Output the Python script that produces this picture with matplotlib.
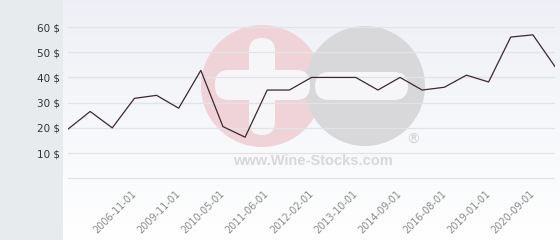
import matplotlib
matplotlib.use("Agg")
import matplotlib.pyplot as plt
import numpy as np
from matplotlib.patches import Circle, FancyBboxPatch, Rectangle

# ---------- Data ----------
prices = [19.5, 26.5, 20.0, 31.7, 32.9, 27.8, 42.8, 20.5, 16.3, 35.0, 35.0,
          40.0, 40.0, 40.0, 35.0, 40.0, 35.0, 36.1, 40.9, 38.2, 56.0, 56.9, 44.3]
tick_idx = [3, 5, 7, 9, 11, 13, 15, 17, 19, 21]
tick_labels = ["2006-11-01", "2009-11-01", "2010-05-01", "2011-06-01", "2012-02-01",
               "2013-10-01", "2014-09-01", "2016-08-01", "2019-01-01", "2020-09-01"]
y_ticks = [10, 20, 30, 40, 50, 60]

W, H = 560, 240
fig = plt.figure(figsize=(W / 100, H / 100), dpi=100)

# ---------- Background + watermark (pixel coords) ----------
bg = fig.add_axes([0, 0, 1, 1], zorder=0)
bg.set_xlim(0, W)
bg.set_ylim(H, 0)
bg.axis("off")
bg.add_patch(Rectangle((0, 0), 63, H, color="#e7ebee", lw=0))
grad = np.linspace(0, 1, 100).reshape(-1, 1)
top = np.array([0.933, 0.941, 0.965])
bot = np.array([1.0, 1.0, 1.0])
img = top + (bot - top) * grad[..., None]
bg.imshow(img, extent=(63, W, H, 0), aspect="auto", origin="upper")

bg.add_patch(Circle((262, 86), 61, color="#efd3d9", lw=0))
bg.add_patch(Circle((365, 86), 60, color="#d8d8da", lw=0))
bg.add_patch(FancyBboxPatch((249, 38), 26, 97, boxstyle="round,pad=0,rounding_size=13",
                            color="#f6f6f9", lw=0))
bg.add_patch(FancyBboxPatch((215, 70), 95, 30, boxstyle="round,pad=0,rounding_size=14",
                            color="#f6f6f9", lw=0))
bg.add_patch(FancyBboxPatch((315, 72), 93, 28, boxstyle="round,pad=0,rounding_size=14",
                            color="#f6f6f9", lw=0))
bg.text(313, 161, "www.Wine-Stocks.com", ha="center", va="center", fontsize=10.5,
        fontweight="bold", family="Liberation Sans", color="#d8d8d8")
bg.text(413, 140, "\u00ae", ha="center", va="center", fontsize=10, color="#d2d2d2")

# ---------- Main chart ----------
x0, x1 = 68, 555
ytop, zero_px, ybot = 20, 178.3, 181
px_per_unit = (zero_px - 27) / 60
ax = fig.add_axes([x0 / W, 1 - ybot / H, (x1 - x0) / W, (ybot - ytop) / H], zorder=1)
ax.patch.set_visible(False)
ax.plot(range(len(prices)), prices, color="#3b2830", lw=0.9, zorder=3)
ax.set_xlim(0, len(prices) - 1)
ax.set_ylim(-(ybot - zero_px) / px_per_unit, (zero_px - ytop) / px_per_unit)

ax.set_yticks([0] + y_ticks)
ax.set_yticklabels([""] + [f"{v} $" for v in y_ticks])
ax.set_xticks(tick_idx)
ax.set_xticklabels(tick_labels, rotation=45, ha="right", va="center",
                   rotation_mode="anchor")
ax.tick_params(axis="y", length=0, pad=6, labelsize=7.5, labelcolor="#333333")
ax.tick_params(axis="x", length=0, pad=8, labelsize=7, labelcolor="#8a8a8a")
ax.yaxis.grid(True, color="#e3e3e6", lw=0.9)
ax.set_axisbelow(False)
for s in ax.spines.values():
    s.set_visible(False)

fig.savefig("out.png", dpi=100)
